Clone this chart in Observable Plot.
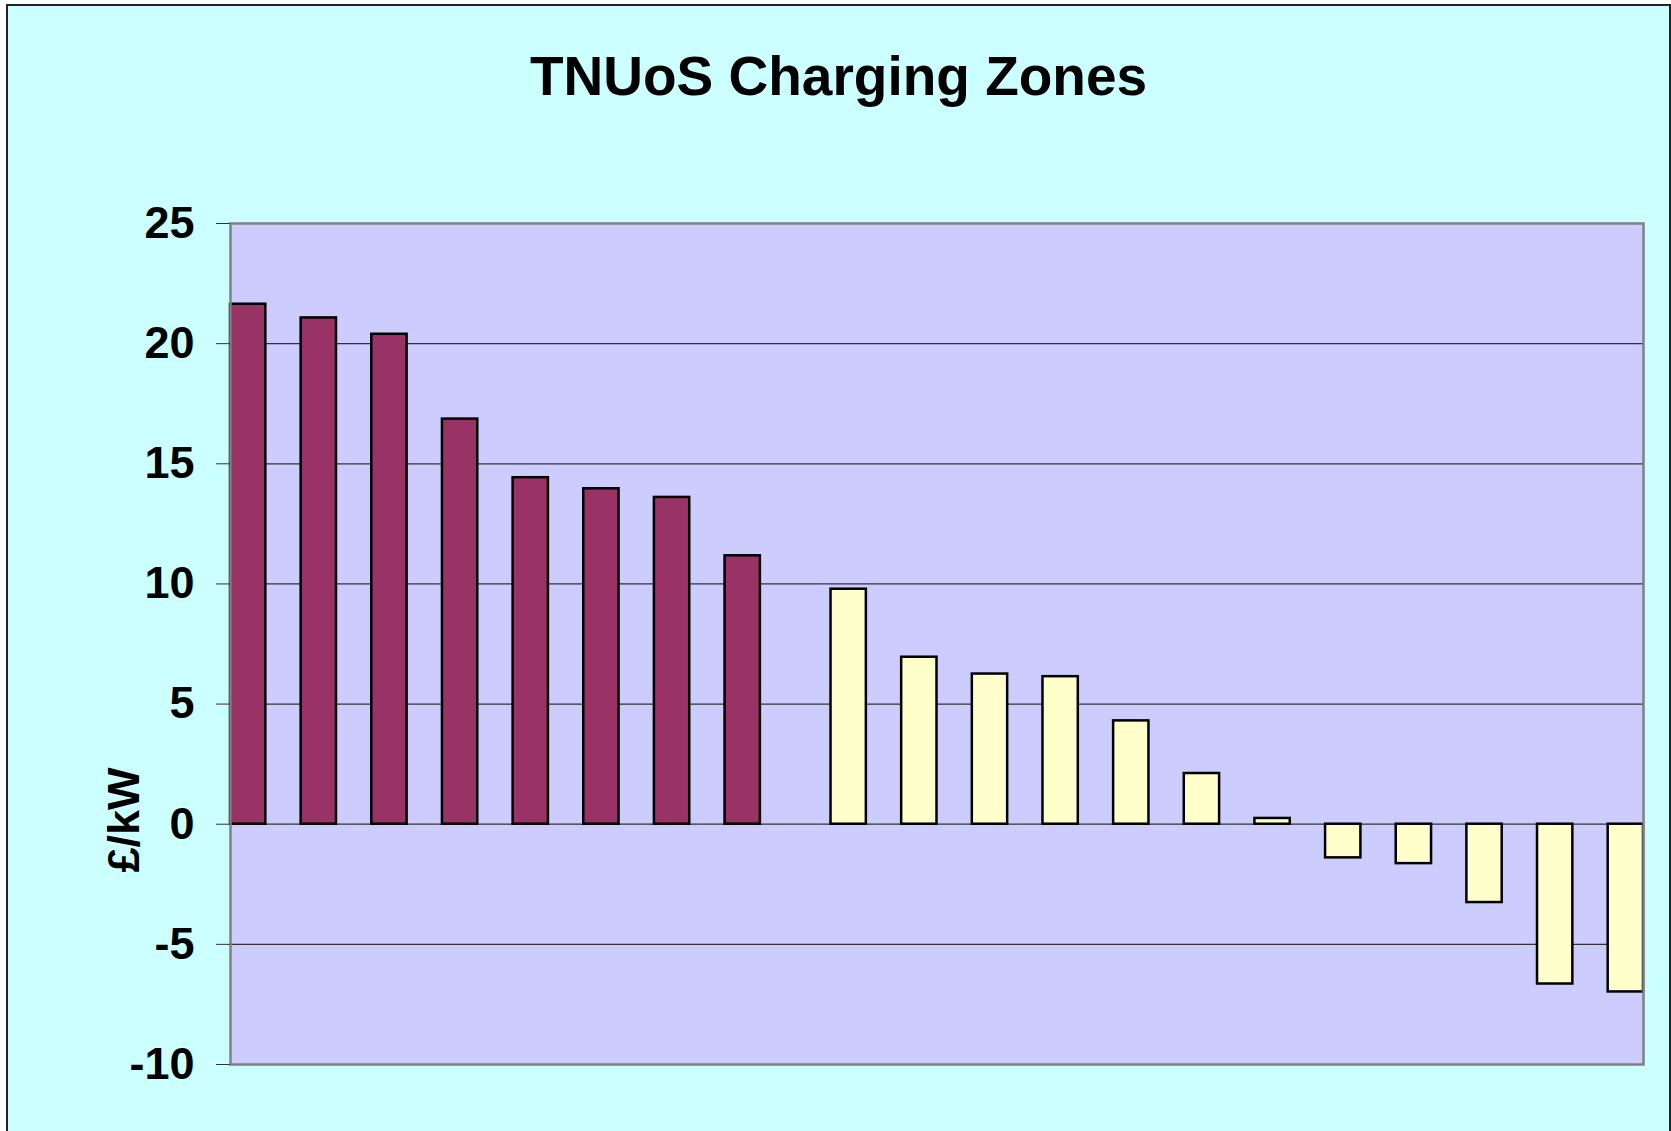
<!DOCTYPE html>
<html>
<head>
<meta charset="utf-8">
<script src="https://cdn.jsdelivr.net/npm/d3@7"></script>
<script src="https://cdn.jsdelivr.net/npm/@observablehq/plot@0.6"></script>
<style>
  html, body { margin: 0; padding: 0; background: #ffffff; width: 1671px; height: 1131px; overflow: hidden; }
  #frame { position: absolute; left: 6px; top: 4px; width: 1665px; height: 1140px; box-sizing: border-box;
           border: 2px solid #222; background: #CCFFFF; }
  #title { position: absolute; left: 6px; width: 1665px; top: 49px; text-align: center;
           font-family: "Liberation Sans", Arial, sans-serif; font-weight: bold; font-size: 55px; line-height: 55px; color: #000; }
  #ylabel { position: absolute; left: 123px; top: 820px; transform: translate(-50%, -50%) rotate(-90deg);
            font-family: "Liberation Sans", Arial, sans-serif; font-weight: bold; font-size: 45px; line-height: 45px; color: #000; white-space: nowrap; }
  #chart { position: absolute; left: 0; top: 150px; }
</style>
</head>
<body>
<div id="frame"></div>
<div id="title">TNUoS Charging Zones</div>
<div id="chart"></div>
<div id="ylabel">£/kW</div>
<script>
// ---- data ----
const zones = d3.range(1, 21);                 // 20 charging zones
const seriesNames = ["Series 1", "Series 2"];
const series1Values = [21.64, 21.07, 20.39, 16.86, 14.42, 13.96, 13.6, 11.17];          // zones 1–8
const series2Values = [9.78, 6.95, 6.25, 6.14, 4.3, 2.11, 0.24, -1.4, -1.64, -3.26, -6.65, -6.98]; // zones 9–20
const seriesColors = ["#993366", "#FFFFCC"];
const tickValues = [-10, -5, 0, 5, 10, 15, 20, 25];

// two series per zone (Excel-style clustered, gap 0): series 1 in left half, series 2 in right half
const slots = zones.flatMap(z => [`${z}a`, `${z}b`]);
const table = [
  ...series1Values.map((v, i) => ({slot: `${zones[i]}a`, value: v, series: seriesNames[0]})),
  ...series2Values.map((v, j) => ({slot: `${zones[series1Values.length + j]}b`, value: v, series: seriesNames[1]}))
];

const chart = Plot.plot({
  width: 1671,
  height: 960,
  marginLeft: 230,
  marginRight: 28,
  marginTop: 73,
  marginBottom: 46,
  style: {background: "transparent", fontFamily: "'Liberation Sans', Arial, sans-serif", fontSize: "45px", fontWeight: "bold", color: "#000"},
  x: {domain: slots, padding: 0, round: false, axis: null},
  y: {domain: [-10, 25], ticks: tickValues, label: null},
  color: {type: "categorical", domain: seriesNames, range: seriesColors},
  marks: [
    Plot.frame({fill: "#CCCCFF", stroke: null}),
    Plot.ruleY(tickValues, {stroke: "#333", strokeWidth: 1.2}),
    Plot.barY(table, {x: "slot", y: "value", fill: "series", stroke: "#000", strokeWidth: 2.5}),
    Plot.frame({stroke: "#808080", strokeWidth: 2.5}),
    Plot.axisY(tickValues, {tickSize: 14, tickPadding: 22, stroke: "#333", label: null,
      tickFormat: d => d < 0 ? "-" + Math.abs(d) : String(d)})
  ]
});
document.getElementById("chart").append(chart);
</script>
</body>
</html>
